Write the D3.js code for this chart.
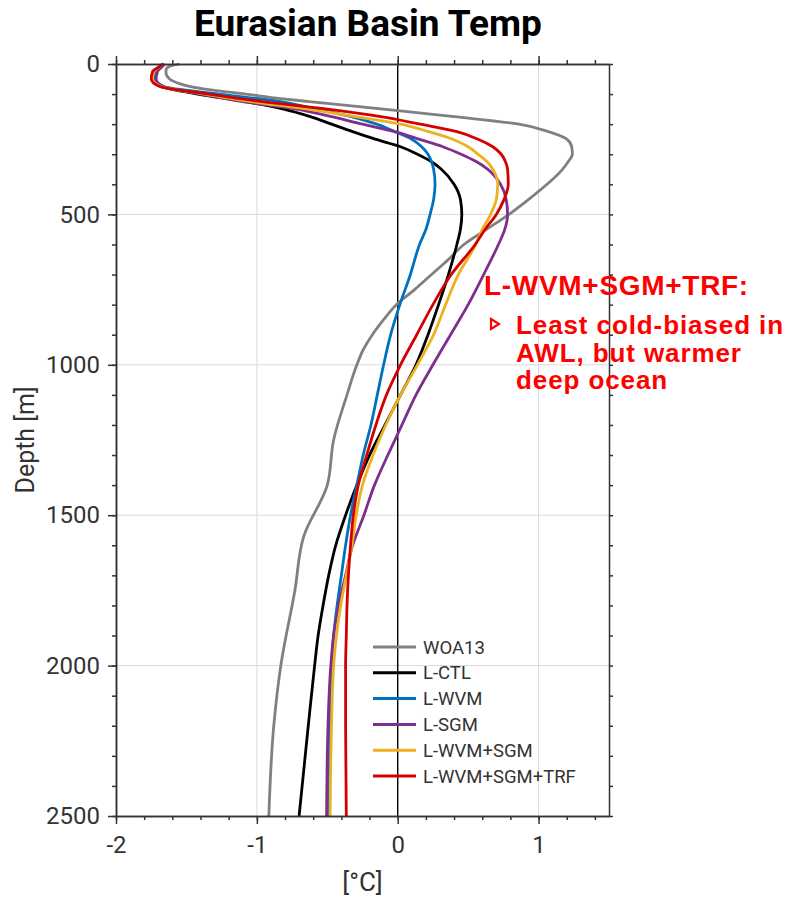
<!DOCTYPE html>
<html>
<head>
<meta charset="utf-8">
<script src="https://cdn.jsdelivr.net/npm/d3@7"></script>
<style>
  body { margin: 0; background: #fff; }
  svg text { font-family: Roboto, "Noto Sans", sans-serif; }
</style>
</head>
<body>
<svg id="chart" width="790" height="898"></svg>
<script>
// Model output levels (m) shared by all simulations
const depthLevels = [0, 10, 25, 50, 75, 100, 125, 150, 175, 200, 225, 250, 275, 300, 325, 350,
  400, 450, 500, 550, 600, 700, 800, 900, 1000, 1100, 1200, 1300, 1400, 1500, 1600, 1700,
  1800, 1900, 2000, 2200, 2500];

// Basin-mean potential temperature (°C) for each simulation
const tempCTL = [-1.665, -1.69, -1.73, -1.735, -1.68, -1.42, -1.08, -0.81, -0.62, -0.47, -0.32,
  -0.16, 0.02, 0.14, 0.24, 0.31, 0.40, 0.445, 0.455, 0.445, 0.42, 0.36, 0.29, 0.215, 0.13,
  0.02, -0.09, -0.20, -0.29, -0.37, -0.44, -0.49, -0.53, -0.565, -0.59, -0.635, -0.70];
const tempWVM = [-1.665, -1.685, -1.72, -1.725, -1.66, -1.27, -0.83, -0.58, -0.33, -0.15, -0.02,
  0.10, 0.17, 0.215, 0.24, 0.255, 0.265, 0.255, 0.23, 0.20, 0.155, 0.09, 0.015, -0.05, -0.10,
  -0.145, -0.19, -0.245, -0.29, -0.335, -0.37, -0.40, -0.43, -0.455, -0.47, -0.485, -0.495];
const tempSGM = [-1.655, -1.675, -1.705, -1.715, -1.665, -1.40, -1.10, -0.72, -0.47, -0.25, -0.02,
  0.15, 0.32, 0.45, 0.56, 0.64, 0.73, 0.77, 0.78, 0.76, 0.715, 0.61, 0.50, 0.375, 0.25, 0.13,
  0.03, -0.07, -0.165, -0.24, -0.32, -0.37, -0.42, -0.455, -0.475, -0.495, -0.505];
const tempWVMSGM = [-1.665, -1.69, -1.73, -1.74, -1.68, -1.37, -1.04, -0.64, -0.30, 0.02, 0.22,
  0.39, 0.50, 0.57, 0.635, 0.675, 0.71, 0.70, 0.66, 0.60, 0.555, 0.43, 0.34, 0.255, 0.14, 0.02,
  -0.085, -0.175, -0.25, -0.295, -0.325, -0.365, -0.405, -0.435, -0.455, -0.47, -0.48];
const tempWVMSGMTRF = [-1.665, -1.695, -1.74, -1.75, -1.69, -1.34, -0.96, -0.50, -0.12, 0.16,
  0.42, 0.57, 0.675, 0.735, 0.765, 0.78, 0.785, 0.755, 0.70, 0.62, 0.55, 0.38, 0.25, 0.135,
  0.02, -0.08, -0.155, -0.22, -0.28, -0.315, -0.335, -0.35, -0.36, -0.365, -0.37, -0.37, -0.365];

// WOA13 climatology on its own standard levels
const woaDepth = [0, 5, 10, 20, 30, 50, 65, 75, 85, 100, 115, 125, 140, 155, 175, 200, 225, 250,
  275, 300, 325, 350, 400, 450, 500, 550, 600, 650, 700, 750, 800, 850, 900, 950, 1000, 1100,
  1250, 1400, 1570, 1750, 2000, 2200, 2500];
const woaTemp = [-1.55, -1.60, -1.63, -1.645, -1.645, -1.62, -1.55, -1.47, -1.34, -1.08, -0.83,
  -0.63, -0.31, 0.0, 0.40, 0.86, 1.07, 1.20, 1.235, 1.24, 1.21, 1.17, 1.06, 0.93, 0.79, 0.63,
  0.47, 0.36, 0.24, 0.12, -0.01, -0.10, -0.18, -0.245, -0.29, -0.36, -0.455, -0.50, -0.667,
  -0.73, -0.83, -0.88, -0.915];

const seriesNames = ["WOA13", "L-CTL", "L-WVM", "L-SGM", "L-WVM+SGM", "L-WVM+SGM+TRF"];
const seriesColors = ["#808080", "#000000", "#0072BD", "#7E2F8E", "#EDB120", "#D40000"];

const xTicks = [-2, -1, 0, 1];
const yTicks = [0, 500, 1000, 1500, 2000, 2500];

const titleText = "Eurasian Basin Temp";
const xLabel = "[°C]";
const yLabel = "Depth [m]";
const noteHead = "L-WVM+SGM+TRF:";
const noteLines = ["Least cold-biased in", "AWL, but warmer", "deep ocean"];

// ---- layout ----
const svg = d3.select("#chart");
const plot = { left: 116, right: 609, top: 64, bottom: 816 };

const x = d3.scaleLinear().domain([-2, 1.5]).range([plot.left, plot.right]);
const y = d3.scaleLinear().domain([0, 2500]).range([plot.top, plot.bottom]);

const series = [
  { name: seriesNames[0], color: seriesColors[0], pts: woaDepth.map((d, i) => ({ d, t: woaTemp[i] })) },
  { name: seriesNames[1], color: seriesColors[1], pts: depthLevels.map((d, i) => ({ d, t: tempCTL[i] })) },
  { name: seriesNames[2], color: seriesColors[2], pts: depthLevels.map((d, i) => ({ d, t: tempWVM[i] })) },
  { name: seriesNames[3], color: seriesColors[3], pts: depthLevels.map((d, i) => ({ d, t: tempSGM[i] })) },
  { name: seriesNames[4], color: seriesColors[4], pts: depthLevels.map((d, i) => ({ d, t: tempWVMSGM[i] })) },
  { name: seriesNames[5], color: seriesColors[5], pts: depthLevels.map((d, i) => ({ d, t: tempWVMSGMTRF[i] })) }
];

// grid
const grid = svg.append("g").attr("stroke", "#dadada").attr("stroke-width", 1);
xTicks.filter(v => v !== 0 && v > -2).forEach(v => {
  grid.append("line").attr("x1", x(v)).attr("x2", x(v)).attr("y1", plot.top).attr("y2", plot.bottom);
});
yTicks.filter(v => v > 0 && v < 2500).forEach(v => {
  grid.append("line").attr("x1", plot.left).attr("x2", plot.right).attr("y1", y(v)).attr("y2", y(v));
});

// zero line
svg.append("line")
  .attr("x1", x(0)).attr("x2", x(0)).attr("y1", plot.top).attr("y2", plot.bottom)
  .attr("stroke", "#000").attr("stroke-width", 1.4);

// profiles
const line = d3.line().x(p => x(p.t)).y(p => y(p.d)).curve(d3.curveMonotoneY);
svg.append("clipPath").attr("id", "plotclip").append("rect")
  .attr("x", plot.left).attr("y", plot.top - 2)
  .attr("width", plot.right - plot.left).attr("height", plot.bottom - plot.top + 2);
svg.append("g").attr("clip-path", "url(#plotclip)")
  .selectAll("path").data(series).join("path")
  .attr("d", s => line(s.pts))
  .attr("fill", "none")
  .attr("stroke", s => s.color)
  .attr("stroke-width", 2.8)
  .attr("stroke-linejoin", "round");

// axes
const axisColor = "#333";
const minorX = d3.range(-2, 1.5001, 0.2).map(v => +v.toFixed(2));
const minorY = d3.range(0, 2501, 100);

function styleAxis(g) {
  g.selectAll("path, line").attr("stroke", axisColor).attr("stroke-width", 1.5);
  g.selectAll("text").attr("fill", "#333").style("font-size", "24px").style("font-family", "Roboto, sans-serif");
}

const fmt = v => String(v);
// bottom
svg.append("g").attr("transform", `translate(0,${plot.bottom})`)
  .call(d3.axisBottom(x).tickValues(minorX).tickSize(4).tickSizeOuter(0).tickFormat(""))
  .call(styleAxis);
svg.append("g").attr("transform", `translate(0,${plot.bottom})`)
  .call(d3.axisBottom(x).tickValues(xTicks).tickSize(8).tickSizeOuter(0).tickPadding(12).tickFormat(fmt))
  .call(styleAxis);
// top
svg.append("g").attr("transform", `translate(0,${plot.top})`)
  .call(d3.axisTop(x).tickValues(minorX).tickSize(4).tickSizeOuter(0).tickFormat(""))
  .call(styleAxis);
svg.append("g").attr("transform", `translate(0,${plot.top})`)
  .call(d3.axisTop(x).tickValues(xTicks).tickSize(8).tickSizeOuter(0).tickFormat(""))
  .call(styleAxis);
// left
svg.append("g").attr("transform", `translate(${plot.left},0)`)
  .call(d3.axisLeft(y).tickValues(minorY).tickSize(4).tickSizeOuter(0).tickFormat(""))
  .call(styleAxis);
svg.append("g").attr("transform", `translate(${plot.left},0)`)
  .call(d3.axisLeft(y).tickValues(yTicks).tickSize(8).tickSizeOuter(0).tickPadding(8).tickFormat(fmt))
  .call(styleAxis);
// right
svg.append("g").attr("transform", `translate(${plot.right},0)`)
  .call(d3.axisRight(y).tickValues(minorY).tickSize(4).tickSizeOuter(0).tickFormat(""))
  .call(styleAxis);

// axis titles
svg.append("text").attr("x", (plot.left + plot.right) / 2).attr("y", 891)
  .attr("text-anchor", "middle").attr("fill", "#333").style("font-size", "26px").text(xLabel);
svg.append("text").attr("transform", `translate(34,${(plot.top + plot.bottom) / 2}) rotate(-90)`)
  .attr("text-anchor", "middle").attr("fill", "#333").style("font-size", "25px").text(yLabel);

// title
svg.append("text").attr("x", 368).attr("y", 36).attr("text-anchor", "middle")
  .attr("fill", "#000").style("font-size", "37px").style("font-weight", 700).text(titleText);

// legend
const legend = svg.append("g").attr("transform", "translate(373,647)");
const rows = legend.selectAll("g").data(series).join("g")
  .attr("transform", (s, i) => `translate(0,${i * 25.8})`);
rows.append("line").attr("x1", 0).attr("x2", 43).attr("y1", 0).attr("y2", 0)
  .attr("stroke", s => s.color).attr("stroke-width", 3);
rows.append("text").attr("x", 50).attr("y", 0).attr("dy", "0.36em")
  .attr("fill", "#333").style("font-size", "18.5px").text(s => s.name);

// annotation
const note = svg.append("g").attr("fill", "#ff0000").style("font-weight", 700);
note.append("text").attr("x", 484).attr("y", 295)
  .style("font-family", "'Liberation Sans', Arial, sans-serif")
  .style("font-size", "28px").style("letter-spacing", "0.7px").text(noteHead);
note.append("path").attr("d", "M491,319 L499,324 L491,329 Z")
  .attr("fill", "#fff").attr("stroke", "#ff0000").attr("stroke-width", 2.2).attr("stroke-linejoin", "miter");
note.selectAll("text.body").data(noteLines).join("text").attr("class", "body")
  .attr("x", 516).attr("y", (t, i) => 334 + i * 27.5)
  .style("font-family", "'Liberation Sans', Arial, sans-serif")
  .style("font-size", "26px").style("letter-spacing", "0.9px").text(t => t);
</script>
</body>
</html>
